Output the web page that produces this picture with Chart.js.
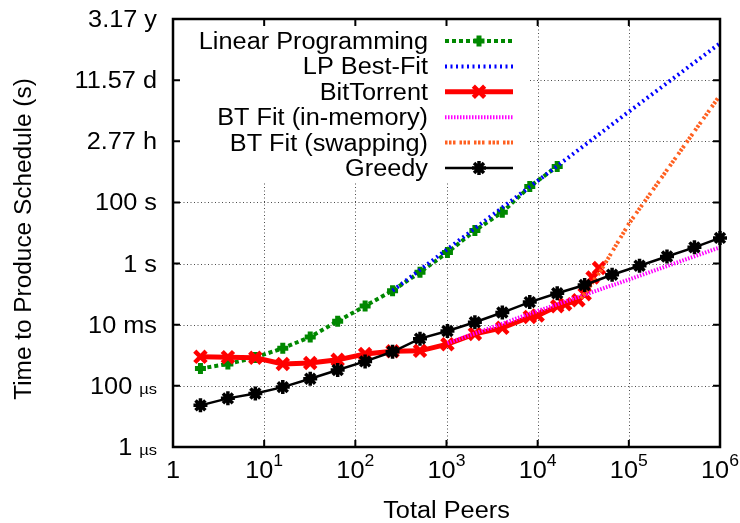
<!DOCTYPE html>
<html>
<head>
<meta charset="utf-8">
<script src="https://cdn.jsdelivr.net/npm/chart.js@4.4.0/dist/chart.umd.min.js"></script>
<style>body{margin:0;background:#fff}</style>
</head>
<body>
<canvas id="c" width="740" height="523"></canvas>
<script>
// peers (x) and time to produce schedule in seconds (y)
const peers = [2, 4, 8, 16, 32, 64, 128, 256, 512, 1024, 2048, 4096, 8192, 16384,
  32768, 65536, 131072, 262144, 524288, 1000000]
const lpPeers = [2, 4, 8, 16, 32, 64, 128, 256, 512, 1024, 2048, 4096, 8192, 16384]
const lpTime = [3.7e-4, 5.2e-4, 8.5e-4, 1.7e-3, 4.0e-3, 1.3e-2, 4.1e-2, 0.13, 0.52,
  2.3, 12, 48, 330, 1500]
const lpFitPeers = [256, 10000, 100000, 1000000]
const lpFitTime = [0.13, 510, 93000, 1.6e7]
const btPeers = [2, 4, 8, 16, 32, 64, 128, 256, 512, 1024, 2048, 4096, 8192, 10000,
  16384, 20000, 28000, 32768, 40000, 47000]
const btTime = [8.9e-4, 8.7e-4, 8.3e-4, 5.2e-4, 5.6e-4, 7.1e-4, 1.1e-3, 1.35e-3, 1.4e-3,
  2.3e-3, 5.0e-3, 7.9e-3, 1.8e-2, 2.0e-2, 4.0e-2, 4.7e-2, 6.3e-2, 0.10, 0.35, 0.71]
const btMemPeers = [1024, 10000, 100000, 1000000]
const btMemTime = [2.5e-3, 2.8e-2, 0.30, 3.4]
const btSwapPeers = [30000, 50000, 100000, 1000000]
const btSwapTime = [7.1e-2, 0.63, 20, 3.2e5]
const greedyTime = [2.3e-5, 3.9e-5, 5.6e-5, 9.1e-5, 1.7e-4, 3.3e-4, 6.3e-4, 1.3e-3, 3.5e-3,
  6.2e-3, 1.2e-2, 2.5e-2, 5.5e-2, 0.107, 0.20, 0.43, 0.85, 1.7, 3.4, 6.9]

const xTicks = [1, 10, 100, 1000, 10000, 100000, 1000000]
const xTickLabels = ['1', '10^1', '10^2', '10^3', '10^4', '10^5', '10^6']
const yTicks = [1e-6, 1e-4, 1e-2, 1, 1e2, 1e4, 1e6, 1e8]
const yTickLabels = ['1 µs', '100 µs', '10 ms', '1 s', '100 s', '2.77 h', '11.57 d', '3.17 y']

const FONT = '"Liberation Sans", Arial, sans-serif'
const SX = 1.1 // glyphs in the original are a bit wide

function pts(xs, ys) {
    return xs.map((v, i) => ({x: v, y: ys[i]}))
}

function text(ctx, s, x, y, size, align) {
    ctx.save()
    ctx.font = size + 'px ' + FONT
    ctx.translate(x, y)
    ctx.scale(SX, 1)
    ctx.textAlign = align
    ctx.textBaseline = 'alphabetic'
    ctx.fillStyle = '#000'
    ctx.fillText(s, 0, 0)
    ctx.restore()
}

function width(ctx, s, size) {
    ctx.save()
    ctx.font = size + 'px ' + FONT
    const w = ctx.measureText(s).width * SX
    ctx.restore()
    return w
}

function marker(ctx, style, x, y, r, w, color) {
    ctx.save()
    ctx.strokeStyle = color
    ctx.lineWidth = w
    ctx.setLineDash([])
    ctx.beginPath()
    if (style === 'cross' || style === 'star') {
        ctx.moveTo(x - r, y); ctx.lineTo(x + r, y)
        ctx.moveTo(x, y - r); ctx.lineTo(x, y + r)
    }
    if (style === 'crossRot' || style === 'star') {
        const d = r * 0.7071
        ctx.moveTo(x - d, y - d); ctx.lineTo(x + d, y + d)
        ctx.moveTo(x + d, y - d); ctx.lineTo(x - d, y + d)
    }
    ctx.stroke()
    ctx.restore()
}

const gnuplotLook = {
    id: 'gnuplotLook',
    beforeDatasetsDraw(chart) {
        const {ctx, chartArea: a, scales: {x, y}} = chart
        ctx.save()
        // dotted grid at the inner major ticks
        ctx.strokeStyle = 'rgba(0,0,0,0.7)'
        ctx.lineWidth = 1
        ctx.setLineDash([1, 2.5])
        ctx.beginPath()
        xTicks.slice(1, -1).forEach(v => {
            const px = Math.round(x.getPixelForValue(v)) + 0.5
            ctx.moveTo(px, a.top); ctx.lineTo(px, a.bottom)
        })
        yTicks.slice(1, -1).forEach(v => {
            const py = Math.round(y.getPixelForValue(v)) + 0.5
            ctx.moveTo(a.left, py); ctx.lineTo(a.right, py)
        })
        ctx.stroke()
        // opaque key box
        ctx.setLineDash([])
        ctx.fillStyle = '#fff'
        ctx.fillRect(a.left, a.top, 355, 163)
        ctx.restore()
    },
    afterDraw(chart) {
        const {ctx, chartArea: a, scales: {x, y}} = chart
        ctx.save()
        // frame
        ctx.strokeStyle = '#000'
        ctx.lineWidth = 2.5
        ctx.strokeRect(a.left, a.top, a.right - a.left, a.bottom - a.top)
        // inward ticks
        ctx.lineWidth = 2
        ctx.beginPath()
        xTicks.forEach(v => {
            const px = x.getPixelForValue(v)
            ctx.moveTo(px, a.bottom); ctx.lineTo(px, a.bottom - 7)
            ctx.moveTo(px, a.top); ctx.lineTo(px, a.top + 7)
        })
        yTicks.forEach(v => {
            const py = y.getPixelForValue(v)
            ctx.moveTo(a.left, py); ctx.lineTo(a.left + 7, py)
            ctx.moveTo(a.right, py); ctx.lineTo(a.right - 7, py)
        })
        ctx.stroke()
        ctx.restore()

        // y tick labels
        const yr = a.left - 16
        yTickLabels.forEach((lab, i) => {
            const py = y.getPixelForValue(yTicks[i]) + 8
            const [num, unit] = lab.split(' ')
            if (unit === 'µs') {
                text(ctx, unit, yr, py, 15, 'right')
                text(ctx, num, yr - width(ctx, unit, 15) - 7, py, 23, 'right')
            } else {
                text(ctx, lab, yr, py, 23, 'right')
            }
        })
        // x tick labels
        xTickLabels.forEach((lab, i) => {
            const px = x.getPixelForValue(xTicks[i])
            const [base, sup] = lab.split('^')
            const wb = width(ctx, base, 23)
            const ws = sup ? width(ctx, sup, 16) : 0
            const left = px - (wb + ws) / 2
            text(ctx, base, left, a.bottom + 31, 23, 'left')
            if (sup) text(ctx, sup, left + wb, a.bottom + 19, 16, 'left')
        })
        // axis titles
        text(ctx, 'Total Peers', (a.left + a.right) / 2, a.bottom + 71, 23, 'center')
        ctx.save()
        ctx.translate(31, (a.top + a.bottom) / 2 + 6)
        ctx.rotate(-Math.PI / 2)
        ctx.scale(1.06, 1)
        ctx.font = '23px ' + FONT
        ctx.textAlign = 'center'
        ctx.fillStyle = '#000'
        ctx.fillText('Time to Produce Schedule (s)', 0, 0)
        ctx.restore()

        // key
        chart.data.datasets.forEach((ds, i) => {
            const cy = a.top + 22 + i * 25.4
            const tx = a.left + 255
            text(ctx, ds.label, tx, cy + 8, 23, 'right')
            const x0 = tx + 17, x1 = tx + 85
            ctx.save()
            ctx.strokeStyle = ds.borderColor
            ctx.lineWidth = ds.borderWidth
            ctx.setLineDash(ds.borderDash || [])
            ctx.beginPath()
            ctx.moveTo(x0, cy); ctx.lineTo(x1, cy)
            ctx.stroke()
            ctx.restore()
            if (ds.pointRadius > 0) {
                marker(ctx, ds.pointStyle, (x0 + x1) / 2, cy, ds.pointRadius, ds.pointBorderWidth, ds.borderColor)
            }
        })
    }
}

new Chart(document.getElementById('c'), {
    type: 'line',
    data: {
        datasets: [
            {
                label: 'Linear Programming',
                data: pts(lpPeers, lpTime),
                borderColor: '#008800',
                borderWidth: 4,
                borderDash: [4, 3],
                pointStyle: 'cross',
                pointRadius: 5.5,
                pointBorderWidth: 5,
                pointBorderColor: '#008800',
                order: 6
            },
            {
                label: 'LP Best-Fit',
                data: pts(lpFitPeers, lpFitTime),
                borderColor: '#0000ff',
                borderWidth: 4,
                borderDash: [2, 3.5],
                pointRadius: 0,
                order: 5
            },
            {
                label: 'BitTorrent',
                data: pts(btPeers, btTime),
                borderColor: '#ff0000',
                borderWidth: 5,
                pointStyle: 'crossRot',
                pointRadius: 8,
                pointBorderWidth: 4.5,
                pointBorderColor: '#ff0000',
                order: 4
            },
            {
                label: 'BT Fit (in-memory)',
                data: pts(btMemPeers, btMemTime),
                borderColor: '#ff00ff',
                borderWidth: 4,
                borderDash: [1.5, 1.5],
                pointRadius: 0,
                order: 3
            },
            {
                label: 'BT Fit (swapping)',
                data: pts(btSwapPeers, btSwapTime),
                borderColor: '#ff6020',
                borderWidth: 4,
                borderDash: [2.5, 1.5, 2.5, 1.5, 2.5, 4],
                pointRadius: 0,
                order: 2
            },
            {
                label: 'Greedy',
                data: pts(peers, greedyTime),
                borderColor: '#000000',
                borderWidth: 2.5,
                pointStyle: 'star',
                pointRadius: 7,
                pointBorderWidth: 3.5,
                pointBorderColor: '#000000',
                order: 1
            }
        ]
    },
    options: {
        responsive: false,
        animation: false,
        clip: false,
        layout: {autoPadding: false, padding: {left: 173, right: 20, top: 19, bottom: 76}},
        elements: {line: {tension: 0, fill: false}},
        plugins: {legend: {display: false}, tooltip: {enabled: false}},
        scales: {
            x: {
                type: 'logarithmic', min: 1, max: 1e6,
                afterBuildTicks: s => { s.ticks = xTicks.map(v => ({value: v})) },
                afterFit: s => { s.height = 0 },
                ticks: {display: false},
                grid: {display: false},
                border: {display: false}
            },
            y: {
                type: 'logarithmic', min: 1e-6, max: 1e8,
                afterBuildTicks: s => { s.ticks = yTicks.map(v => ({value: v})) },
                afterFit: s => { s.width = 0 },
                ticks: {display: false},
                grid: {display: false},
                border: {display: false}
            }
        }
    },
    plugins: [gnuplotLook]
})
</script>
</body>
</html>
